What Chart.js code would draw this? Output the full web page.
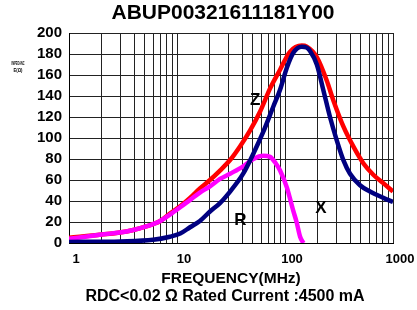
<!DOCTYPE html>
<html>
<head>
<meta charset="utf-8">
<script src="https://cdn.jsdelivr.net/npm/chart.js@4.4.0/dist/chart.umd.min.js"></script>
<style>
  html, body { margin: 0; padding: 0; background: #fff; }
</style>
</head>
<body>
<canvas id="chart" width="417" height="310"></canvas>
<script>
// Impedance curves (frequency in MHz, impedance in ohm)
const zFreq = [1, 2, 3.4, 4.5, 6, 7, 8.6, 10.7, 13.2, 16.3, 20.2, 25, 31, 38.3, 47.4, 58.7, 72.6, 90, 111, 143, 159, 197, 243, 280, 347, 429, 531, 657, 813, 1000]
const zValues = [5, 8, 11, 14, 18, 21, 28, 35, 43, 52, 60, 69, 79, 92, 107, 125, 147, 165, 182, 188, 187, 177, 155, 136, 111, 92, 76, 65, 57, 49]

const xFreq = [1, 3, 6, 8.6, 10.7, 13.2, 16.3, 20.2, 25, 31, 41, 50.9, 63, 78, 90, 104, 119, 143, 159, 170, 197, 226, 261, 301, 347, 400, 495, 612, 813, 1000]
const xValues = [1, 1.5, 3, 6, 9, 15, 21, 30, 38, 49, 66, 85, 106, 130, 146, 167, 181, 187, 186, 183, 170, 146, 120, 98, 79, 66, 55, 49, 43, 39]

const rFreq = [1, 2, 3.4, 4.5, 6, 7, 8.6, 10.7, 13.2, 16.3, 20.2, 25, 31, 41, 50.9, 63, 72.6, 82, 90, 104, 119, 128, 138, 148]
const rValues = [4, 8, 11, 14, 18, 21, 27, 34, 41, 48, 54, 61, 66, 73, 80, 83, 82, 76, 69, 53, 31, 20, 6, 0]

// Axis ticks
const freqTicks = [1, 2, 3, 4, 5, 6, 7, 8, 9, 10, 20, 30, 40, 50, 60, 70, 80, 90, 100, 200, 300, 400, 500, 600, 700, 800, 900, 1000]
const freqLabels = [1, 10, 100, 1000]

// Curve names written on the plot, placed in data space
const curveNames = ["Z", "R", "X"]
const nameFreq = [53, 38.7, 215]
const nameValue = [136, 21.7, 33]

const FONT = "'Liberation Sans', Arial, sans-serif"

const toPoints = (freq, values) => freq.map((f, i) => ({ x: f, y: values[i] }))

// title, subtitle and curve names; the built-in title would centre on the wrong span
const textLayer = {
  id: "textLayer",
  afterDatasetsDraw(chart) {
    const { ctx, scales: { x, y } } = chart
    ctx.save()
    ctx.fillStyle = "#000"
    ctx.textAlign = "center"
    ctx.textBaseline = "middle"

    ctx.font = `bold 21px ${FONT}`
    ctx.fillText("ABUP00321611181Y00", 223, 13)
    ctx.font = `bold 16px ${FONT}`
    ctx.fillText("RDC<0.02 Ω Rated Current :4500 mA", 225, 297)

    ctx.font = `bold 17px ${FONT}`
    curveNames.forEach((name, i) => {
      ctx.fillText(name, x.getPixelForValue(nameFreq[i]), y.getPixelForValue(nameValue[i]))
    })

    // tiny squeezed y caption
    ctx.font = `bold 6px ${FONT}`
    ctx.fillText("IMPEDANC", 18, 63.5, 13)
    ctx.fillText("E(Ω)", 18, 70.5, 9)
    ctx.restore()
  },
}

const line = (label, freq, values, color) => ({
  label: label,
  data: toPoints(freq, values),
  borderColor: color,
  backgroundColor: color,
  borderWidth: 4.5,
  pointRadius: 0,
  cubicInterpolationMode: "monotone",
  fill: false,
})

new Chart(document.getElementById("chart"), {
  type: "line",
  data: {
    datasets: [
      line("X", xFreq, xValues, "#000080"),
      line("R", rFreq, rValues, "#ff00ff"),
      line("Z", zFreq, zValues, "#ff0000"),
    ],
  },
  options: {
    responsive: false,
    animation: false,
    layout: { padding: { left: 0, right: 24, top: 33, bottom: 22 } },
    plugins: {
      legend: { display: false },
      tooltip: { enabled: false },
    },
    scales: {
      x: {
        type: "logarithmic",
        min: 1,
        max: 1000,
        afterBuildTicks: (scale) => {
          scale.ticks = freqTicks.map((v) => ({ value: v }))
        },
        afterFit: (scale) => {
          scale.height = 45
        },
        grid: { color: "#222", lineWidth: 1, drawTicks: false },
        border: { color: "#000", width: 1 },
        ticks: {
          autoSkip: false,
          maxRotation: 0,
          padding: 9,
          labelOffset: 7,
          color: "#000",
          font: { family: FONT, size: 13, weight: "bold" },
          callback: (v) => (freqLabels.includes(v) ? String(v) : ""),
        },
        title: {
          display: true,
          text: "FREQUENCY(MHz)",
          color: "#000",
          font: { family: FONT, size: 15.5, weight: "bold", lineHeight: 1.2 },
          padding: { top: 0, bottom: 0 },
        },
      },
      y: {
        min: 0,
        max: 200,
        afterFit: (scale) => {
          scale.width = 69
        },
        grid: { color: "#222", lineWidth: 1, drawTicks: false },
        border: { color: "#000", width: 1 },
        ticks: {
          stepSize: 20,
          autoSkip: false,
          padding: 7,
          color: "#000",
          font: { family: FONT, size: 15, weight: "bold" },
        },
      },
    },
  },
  plugins: [textLayer],
})
</script>
</body>
</html>
